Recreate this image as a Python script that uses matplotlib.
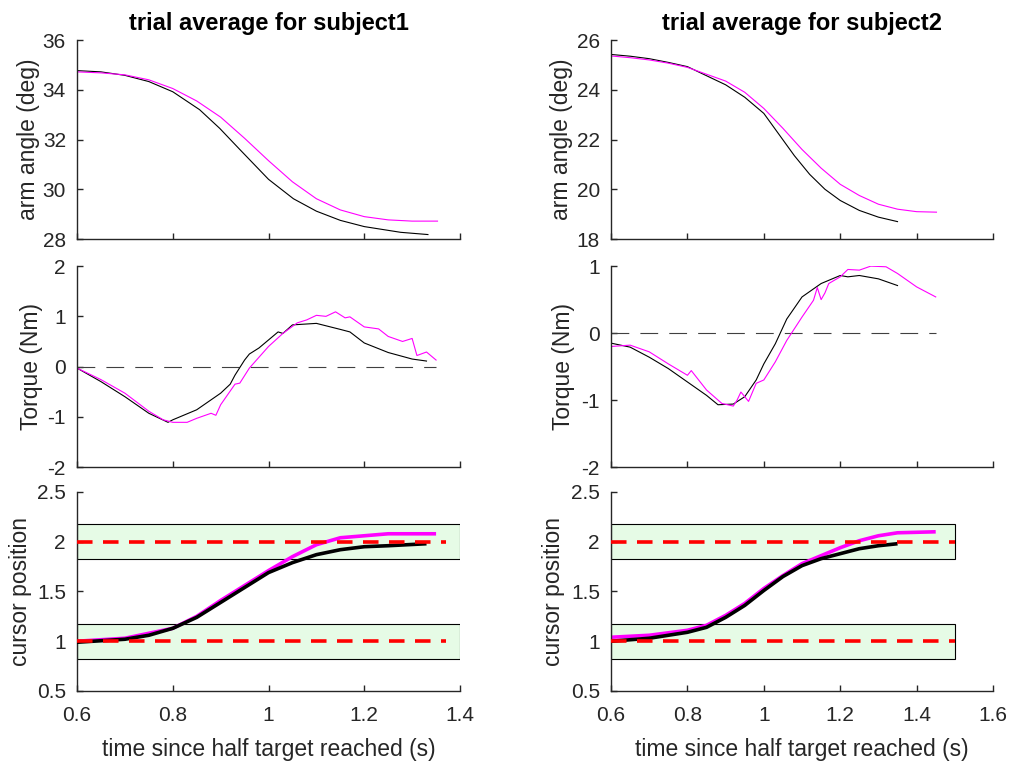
"""Trial averages for two subjects: arm angle, torque, cursor position vs time."""
import matplotlib
matplotlib.use("Agg")
import matplotlib.pyplot as plt
from matplotlib.patches import Rectangle
from matplotlib.ticker import FormatStrFormatter

plt.rcParams["font.family"] = ["Liberation Sans", "DejaVu Sans"]

DARK = "#262626"
MAG = "#ff00ff"

# ---- subject 1 ----
s1_ang_t_k = [0.6, 0.65, 0.7, 0.75, 0.8, 0.856, 0.898, 0.94, 1.0, 1.052, 1.1, 1.15, 1.2, 1.276, 1.333]
s1_ang_k = [34.77, 34.72, 34.58, 34.33, 33.92, 33.20, 32.45, 31.60, 30.40, 29.62, 29.12, 28.75, 28.50,
            28.27, 28.18]
s1_ang_t_m = [0.6, 0.65, 0.7, 0.75, 0.8, 0.85, 0.9, 0.95, 1.0, 1.05, 1.1, 1.15, 1.2, 1.25, 1.3, 1.353]
s1_ang_m = [34.72, 34.68, 34.60, 34.40, 34.05, 33.55, 32.90, 32.05, 31.15, 30.30, 29.62, 29.17, 28.90,
            28.77, 28.72, 28.72]

s1_trq_t_k = [0.6, 0.65, 0.7, 0.75, 0.79, 0.8, 0.85, 0.9, 0.92, 0.93, 0.95, 0.96, 0.98, 1.0, 1.02,
              1.03, 1.05, 1.1, 1.15, 1.17, 1.2, 1.25, 1.3, 1.33]
s1_trq_k = [-0.03, -0.30, -0.60, -0.93, -1.11, -1.06, -0.86, -0.53, -0.35, -0.17, 0.13, 0.25, 0.37,
            0.53, 0.69, 0.66, 0.83, 0.86, 0.74, 0.69, 0.47, 0.28, 0.15, 0.11]
s1_trq_t_m = [0.6, 0.65, 0.7, 0.75, 0.78, 0.8, 0.83, 0.85, 0.88, 0.89, 0.9, 0.93, 0.94, 0.96, 1.0, 1.03,
              1.06, 1.08, 1.1, 1.12, 1.14, 1.16, 1.17, 1.2, 1.23, 1.25, 1.28, 1.30, 1.31, 1.33, 1.35]
s1_trq_m = [-0.03, -0.26, -0.53, -0.89, -1.06, -1.11, -1.11, -1.03, -0.93, -0.97, -0.76, -0.35, -0.33,
            -0.03, 0.40, 0.66, 0.87, 0.93, 1.02, 1.00, 1.09, 0.97, 0.99, 0.79, 0.75, 0.60, 0.50, 0.56,
            0.22, 0.29, 0.13]

s1_cur_t_k = [0.6, 0.7, 0.75, 0.8, 0.85, 0.9, 0.95, 1.0, 1.05, 1.1, 1.15, 1.2, 1.25, 1.33]
s1_cur_k = [0.99, 1.02, 1.06, 1.13, 1.24, 1.39, 1.54, 1.69, 1.79, 1.87, 1.92, 1.95, 1.96, 1.98]
s1_cur_t_m = [0.6, 0.7, 0.8, 0.85, 0.9, 0.95, 1.0, 1.05, 1.1, 1.15, 1.2, 1.25, 1.35]
s1_cur_m = [1.0, 1.03, 1.13, 1.25, 1.41, 1.56, 1.71, 1.85, 1.97, 2.04, 2.06, 2.08, 2.08]

# ---- subject 2 ----
s2_ang_t_k = [0.6, 0.65, 0.7, 0.75, 0.8, 0.9, 0.95, 1.0, 1.04, 1.08, 1.12, 1.16, 1.2, 1.25, 1.3, 1.35]
s2_ang_k = [25.42, 25.35, 25.25, 25.10, 24.93, 24.20, 23.70, 23.05, 22.20, 21.35, 20.60, 20.00, 19.55,
            19.15, 18.88, 18.70]
s2_ang_t_m = [0.6, 0.65, 0.7, 0.75, 0.8, 0.9, 0.95, 1.0, 1.05, 1.1, 1.15, 1.2, 1.25, 1.3, 1.35, 1.4, 1.452]
s2_ang_m = [25.36, 25.29, 25.20, 25.07, 24.90, 24.35, 23.90, 23.25, 22.45, 21.60, 20.85, 20.20, 19.75,
            19.40, 19.20, 19.10, 19.08]

s2_trq_t_k = [0.6, 0.65, 0.7, 0.75, 0.8, 0.85, 0.88, 0.92, 0.95, 0.98, 1.0, 1.03, 1.06, 1.1, 1.15,
              1.2, 1.22, 1.25, 1.3, 1.35]
s2_trq_k = [-0.15, -0.21, -0.36, -0.53, -0.73, -0.93, -1.07, -1.06, -0.95, -0.70, -0.46, -0.16,
            0.21, 0.54, 0.74, 0.86, 0.84, 0.86, 0.81, 0.71]
s2_trq_t_m = [0.6, 0.65, 0.7, 0.75, 0.8, 0.81, 0.85, 0.89, 0.92, 0.93, 0.94, 0.96, 0.98, 1.0, 1.03,
              1.06, 1.1, 1.13, 1.14, 1.15, 1.16, 1.17, 1.2, 1.22, 1.25, 1.28, 1.32, 1.35, 1.4, 1.45]
s2_trq_m = [-0.20, -0.18, -0.28, -0.46, -0.63, -0.56, -0.85, -1.05, -1.09, -1.00, -0.88, -1.02, -0.75,
            -0.70, -0.43, -0.11, 0.24, 0.49, 0.68, 0.50, 0.60, 0.74, 0.84, 0.95, 0.94, 1.00, 0.99,
            0.89, 0.69, 0.54]

s2_cur_t_k = [0.6, 0.7, 0.8, 0.85, 0.9, 0.95, 1.0, 1.05, 1.1, 1.15, 1.2, 1.25, 1.3, 1.35]
s2_cur_k = [1.0, 1.03, 1.09, 1.14, 1.24, 1.36, 1.51, 1.65, 1.76, 1.83, 1.88, 1.93, 1.96, 1.98]
s2_cur_t_m = [0.6, 0.7, 0.8, 0.85, 0.9, 0.95, 1.0, 1.05, 1.1, 1.15, 1.2, 1.25, 1.3, 1.35, 1.45]
s2_cur_m = [1.04, 1.06, 1.11, 1.16, 1.26, 1.38, 1.53, 1.66, 1.78, 1.86, 1.94, 2.01, 2.06, 2.09, 2.10]

targets = [1.0, 2.0]
target_halfwidth = 0.175

subjects = ["subject1", "subject2"]
x_max = [1.4, 1.6]
box_end = [1.4, 1.5]
red_end = [1.37, 1.5]
zero_end = [1.35, 1.45]
ang_lim = [(28, 36), (18, 26)]
trq_lim = [(-2, 2), (-2, 1)]

angles = [(s1_ang_t_k, s1_ang_k, s1_ang_t_m, s1_ang_m), (s2_ang_t_k, s2_ang_k, s2_ang_t_m, s2_ang_m)]
torques = [(s1_trq_t_k, s1_trq_k, s1_trq_t_m, s1_trq_m), (s2_trq_t_k, s2_trq_k, s2_trq_t_m, s2_trq_m)]
cursors = [(s1_cur_t_k, s1_cur_k, s1_cur_t_m, s1_cur_m), (s2_cur_t_k, s2_cur_k, s2_cur_t_m, s2_cur_m)]

fig = plt.figure(figsize=(10.11, 7.61), dpi=100)
lefts = [0.0762, 0.6044]
widths = [0.3788, 0.3778]
rows = [(0.6859, 0.2615), (0.3863, 0.264), (0.092, 0.2615)]
# y-label anchor (axes fraction) per column: angle, torque, cursor
ylab_x = [(-0.097, -0.089, -0.117), (-0.099, -0.094, -0.12)]
LBL = 16.5
TCK = 15


def style(ax, xmax, show_x):
    for s in ("top", "right"):
        ax.spines[s].set_visible(False)
    for s in ("left", "bottom"):
        ax.spines[s].set_color(DARK)
        ax.spines[s].set_linewidth(1.0)
    ax.tick_params(direction="in", length=4, width=1.0, colors=DARK, labelsize=TCK)
    ax.tick_params(axis="x", pad=10.5)
    ax.tick_params(axis="y", pad=8)
    ax.set_xlim(0.6, xmax)
    ax.set_xticks([round(0.6 + 0.2 * i, 1) for i in range(int(round((xmax - 0.6) / 0.2)) + 1)])
    ax.xaxis.set_major_formatter(FormatStrFormatter("%g"))
    ax.yaxis.set_major_formatter(FormatStrFormatter("%g"))
    if not show_x:
        ax.tick_params(labelbottom=False)


for c in range(2):
    x0, w = lefts[c], widths[c]
    xmax = x_max[c]

    # arm angle
    ax = fig.add_axes([x0, rows[0][0], w, rows[0][1]])
    tk, yk, tm, ym = angles[c]
    ax.plot(tk, yk, color="black", lw=0.8)
    ax.plot(tm, ym, color=MAG, lw=0.8)
    ax.set_ylim(*ang_lim[c])
    ax.set_yticks(range(ang_lim[c][0], ang_lim[c][1] + 1, 2))
    style(ax, xmax, False)
    ax.set_ylabel("arm angle (deg)", fontsize=LBL, color=DARK)
    ax.yaxis.set_label_coords(ylab_x[c][0], 0.5)
    ax.set_title(f"trial average for {subjects[c]}", fontsize=17, fontweight="bold", pad=7)

    # torque
    ax = fig.add_axes([x0, rows[1][0], w, rows[1][1]])
    tk, yk, tm, ym = torques[c]
    ax.plot([0.6, zero_end[c]], [0, 0], color="#404040", lw=0.8, dashes=(16, 10))
    ax.plot(tk, yk, color="black", lw=0.8)
    ax.plot(tm, ym, color=MAG, lw=0.8)
    ax.set_ylim(*trq_lim[c])
    ax.set_yticks(range(trq_lim[c][0], trq_lim[c][1] + 1))
    style(ax, xmax, False)
    ax.set_ylabel("Torque (Nm)", fontsize=LBL, color=DARK)
    ax.yaxis.set_label_coords(ylab_x[c][1], 0.5)

    # cursor position
    ax = fig.add_axes([x0, rows[2][0], w, rows[2][1]])
    for tgt in targets:
        ax.add_patch(Rectangle((0.6, tgt - target_halfwidth), box_end[c] - 0.6, 2 * target_halfwidth,
                               facecolor="#e6fbe6", edgecolor="black", lw=0.8, zorder=1))
    tk, yk, tm, ym = cursors[c]
    ax.plot(tm, ym, color=MAG, lw=2.6, zorder=2, solid_capstyle="butt")
    ax.plot(tk, yk, color="black", lw=2.6, zorder=3, solid_capstyle="butt")
    for tgt in targets:
        ax.plot([0.6, red_end[c]], [tgt, tgt], color="red", lw=2.6, dashes=(4.3, 2.9), zorder=4)
    ax.set_ylim(0.5, 2.5)
    ax.set_yticks([0.5, 1, 1.5, 2, 2.5])
    style(ax, xmax, True)
    ax.set_ylabel("cursor position", fontsize=LBL, color=DARK)
    ax.yaxis.set_label_coords(ylab_x[c][2], 0.5)
    ax.set_xlabel("time since half target reached (s)", fontsize=LBL, color=DARK)
    ax.xaxis.set_label_coords(0.5, -0.235)

fig.savefig("out.png", dpi=100)
